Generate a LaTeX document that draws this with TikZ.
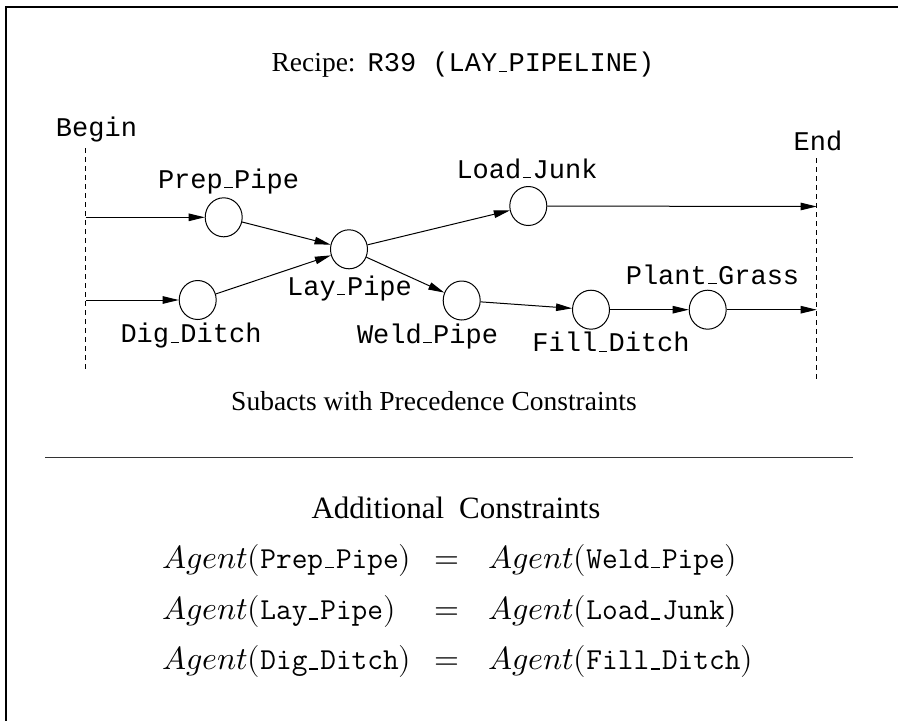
\documentclass[tikz,border=0pt]{standalone}
\usepackage{fontspec}
\usepackage{unicode-math}
\setmainfont{Liberation Serif}
\newfontfamily\cour{Liberation Mono}
\usetikzlibrary{arrows.meta,shapes.geometric}
\newcommand\us{\leavevmode\kern.06em\vbox{\hrule width .3em height 1.2pt}\kern.06em}
\newcommand\ttx[1]{\hbox{\ttfamily\fontsize{30.5}{36}\selectfont #1}}
\tikzset{
  act/.style={ellipse, draw, line width=1pt, minimum width=37pt, minimum height=39pt, inner sep=0pt},
  lbl/.style={anchor=base, inner sep=0pt, font=\cour\fontsize{27}{32}\selectfont},
  flow/.style={-{Triangle[length=16pt,width=7.5pt]}, line width=1pt},
  bound/.style={dash pattern=on 5pt off 4pt, line width=1pt},
  serif/.style={anchor=base, inner sep=0pt, font=\fontsize{27.5}{33}\selectfont},
  eqn/.style={anchor=base west, inner sep=0pt, font=\fontsize{32}{38}\selectfont},
  eqs/.style={anchor=base, inner sep=0pt, font=\fontsize{32}{38}\selectfont},
}
\begin{document}
\begin{tikzpicture}[x=1pt,y=-1pt]
\useasboundingbox (0,0) rectangle (898,721);
% frame
\draw[line width=2pt] (5.5,730) -- (5.5,6.5) -- (905,6.5);

% title
\node[serif] (title) at (463,71.7) {Recipe:\hspace{12pt}{\cour\fontsize{27}{32}\selectfont R39 (LAY\us PIPELINE)}};

% begin / end boundaries
\coordinate (btop) at (85.5,148);
\coordinate (bbot) at (85.5,369.5);
\coordinate (etop) at (816.7,158);
\coordinate (ebot) at (816.7,380);
\draw[bound] (btop) -- (bbot);
\draw[bound] (etop) -- (ebot);
\node[lbl] (beginlbl) at (96.5,136) {Begin};
\node[lbl] (endlbl) at (818,150) {End};

\coordinate (b1) at (85.5,217.3);
\coordinate (b2) at (85.5,300);
\coordinate (e1) at (816.7,206.5);
\coordinate (e2) at (816.7,309.7);

% activities
\node[act] (prep) at (223.7,217.3) {};
\node[act] (dig) at (197.7,300) {};
\node[act] (lay) at (349,249.3) {};
\node[act] (weld) at (461.7,300.5) {};
\node[act] (load) at (528.3,206) {};
\node[act] (fill) at (591,309.7) {};
\node[act] (plant) at (707.7,309.7) {};

\node[lbl] (prepl) at (228.5,188) {Prep\us Pipe};
\node[lbl] (digl) at (191,342.7) {Dig\us Ditch};
\node[lbl] (layl) at (349.5,295) {Lay\us Pipe};
\node[lbl] (weldl) at (427.5,343) {Weld\us Pipe};
\node[lbl] (loadl) at (527,178.3) {Load\us Junk};
\node[lbl] (filll) at (611,351.7) {Fill\us Ditch};
\node[lbl] (plantl) at (712.5,284) {Plant\us Grass};

% connectors
\draw[flow] (b1) -- (prep);
\draw[flow] (b2) -- (dig);
\draw[flow] (prep) -- (lay);
\draw[flow] (dig) -- (lay);
\draw[flow] (lay) -- (load);
\draw[flow] (lay) -- (weld);
\draw[flow] (weld) -- (fill);
\draw[flow] (fill) -- (plant);
\draw[flow] (load) -- (e1);
\draw[flow] (plant) -- (e2);

\node[serif] (sub) at (434,410.7) {Subacts with Precedence Constraints};

% rule
\coordinate (rl) at (45,457.3);
\coordinate (rr) at (853,457.3);
\draw[line width=1.3pt, black!80] (rl) -- (rr);

\node[anchor=base, inner sep=0pt, font=\fontsize{31}{36}\selectfont] (addc) at (456,518.3) {Additional\hspace{15pt}Constraints};

% equations
\node[eqn] (l1) at (162,568.3) {$Agent(\ttx{Prep\us Pipe})$};
\node[eqn] (l2) at (162,619.5) {$Agent(\ttx{Lay\us Pipe})$};
\node[eqn] (l3) at (162,669.5) {$Agent(\ttx{Dig\us Ditch})$};
\node[eqs] (q1) at (446.7,568.3) {$=$};
\node[eqs] (q2) at (446.7,619.5) {$=$};
\node[eqs] (q3) at (446.7,669.5) {$=$};
\node[eqn] (r1) at (488,568.3) {$Agent(\ttx{Weld\us Pipe})$};
\node[eqn] (r2) at (488,619.5) {$Agent(\ttx{Load\us Junk})$};
\node[eqn] (r3) at (488,669.5) {$Agent(\ttx{Fill\us Ditch})$};
\end{tikzpicture}
\end{document}
